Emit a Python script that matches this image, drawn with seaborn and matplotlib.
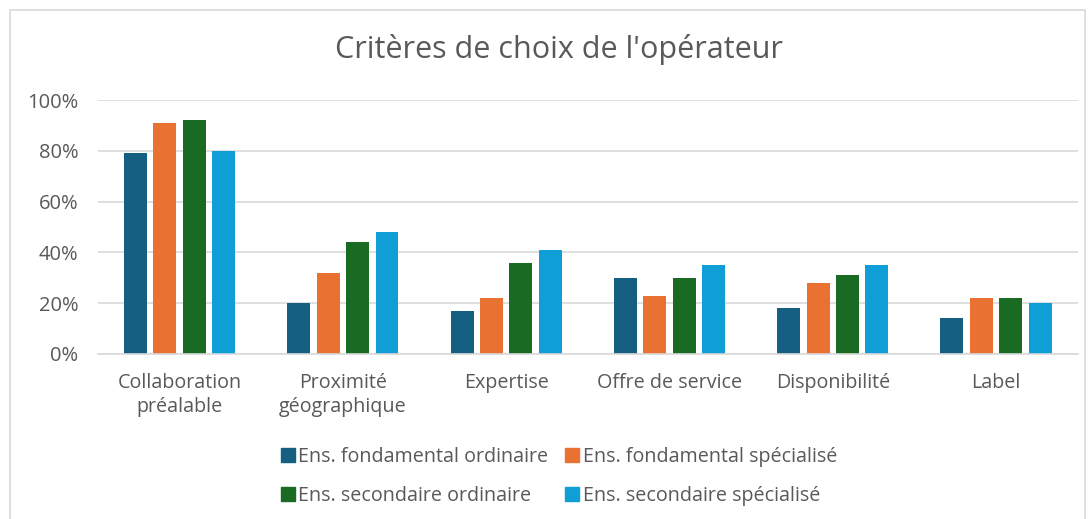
import matplotlib
matplotlib.use("Agg")
import matplotlib.pyplot as plt
import seaborn as sns
import pandas as pd
from matplotlib.patches import Rectangle
from matplotlib.lines import Line2D
from matplotlib.ticker import PercentFormatter

categories = ["Collaboration\npréalable", "Proximité\ngéographique", "Expertise",
              "Offre de service", "Disponibilité", "Label"]
series_names = ["Ens. fondamental ordinaire", "Ens. fondamental spécialisé",
                "Ens. secondaire ordinaire", "Ens. secondaire spécialisé"]
fond_ord = [0.79, 0.20, 0.17, 0.30, 0.18, 0.14]
fond_spe = [0.91, 0.32, 0.22, 0.23, 0.28, 0.22]
sec_ord = [0.92, 0.44, 0.36, 0.30, 0.31, 0.22]
sec_spe = [0.80, 0.48, 0.41, 0.35, 0.35, 0.20]
colors = ["#156082", "#E97132", "#196B24", "#0F9ED5"]
yticks = [0, 0.2, 0.4, 0.6, 0.8, 1.0]

rows = []
for name, vals in zip(series_names, [fond_ord, fond_spe, sec_ord, sec_spe]):
    for c, v in zip(categories, vals):
        rows.append({"cat": c, "serie": name, "val": v})
df = pd.DataFrame(rows)

sns.set_theme(style="white")
plt.rcParams["font.family"] = ["Open Sans", "DejaVu Sans"]
txt = "#595959"

fig = plt.figure(figsize=(10.91, 5.19), dpi=100)
ax = fig.add_axes([0.0898, 0.318, 0.898, 0.489])
sns.barplot(data=df, x="cat", y="val", hue="serie", order=categories,
            hue_order=series_names, palette=colors, width=0.72, gap=0.22,
            saturation=1, ax=ax, legend=False, linewidth=0)
ax.set_ylim(0, 1.0)
ax.set_yticks(yticks)
ax.yaxis.set_major_formatter(PercentFormatter(1.0, decimals=0))
ax.grid(axis="y", color="#D9D9D9", linewidth=1.2)
ax.set_axisbelow(True)
for s in ["top", "right", "left"]:
    ax.spines[s].set_visible(False)
ax.spines["bottom"].set_color("#D9D9D9")
ax.spines["bottom"].set_linewidth(1.2)
ax.set_xlabel("")
ax.set_ylabel("")
ax.tick_params(axis="x", length=0, labelsize=14.2, colors=txt, pad=13.5)
ax.tick_params(axis="y", length=0, labelsize=14.5, colors=txt, pad=14)
for lab in ax.get_xticklabels():
    lab.set_linespacing(1.3)

fig.text(0.512, 0.905, "Critères de choix de l'opérateur", ha="center", va="center",
         fontsize=22, color=txt)

handles = [Line2D([0], [0], marker="s", linestyle="", markersize=10,
                  markerfacecolor=c, markeredgecolor=c) for c in colors]
order = [0, 2, 1, 3]
leg = fig.legend([handles[i] for i in order], [series_names[i] for i in order],
                 loc="center", bbox_to_anchor=(0.511, 0.082),
                 ncol=2, frameon=False, fontsize=14.2, handletextpad=0.05,
                 columnspacing=0.7, labelspacing=1.0, handlelength=1.0)
for t in leg.get_texts():
    t.set_color(txt)

fig.patches.append(Rectangle((10 / 1091, -0.1), 1075 / 1091, 1.08 - 10 / 519 + 0.02,
                             transform=fig.transFigure, fill=False,
                             edgecolor="#D9D9D9", linewidth=1.2))

fig.savefig("out.png", dpi=100, facecolor="white")
